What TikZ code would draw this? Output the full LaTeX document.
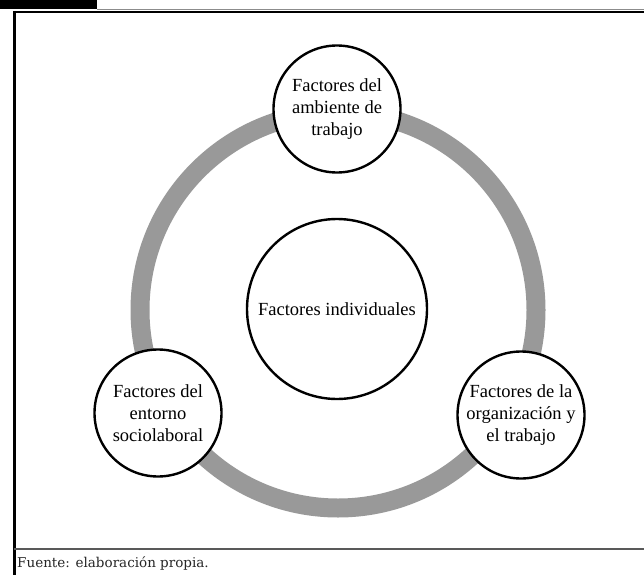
\documentclass[tikz,border=0pt]{standalone}
\usepackage{fontspec}
\newfontfamily\timesfont{Liberation Serif}
\newfontfamily\footfont{DejaVu Serif}
\begin{document}
\begin{tikzpicture}[x=1pt,y=-1pt,
  sat/.style={circle, draw=black, line width=2.4pt, fill=white, minimum size=127pt, inner sep=0pt, align=center, font=\timesfont\fontsize{18.5}{22}\selectfont},
  ring/.style={draw=black!40, line width=19pt},
  frame/.style={draw=black, line width=1.5pt},
]
\useasboundingbox (0,0) rectangle (644,575);
\fill[white] (0,0) rectangle (644,575);
\fill[black] (0,0) rectangle (97,9);
\draw[draw=black!45, line width=1.5pt] (97,9.5) -- (644,9.5);
\draw[frame] (14,12) -- (644,12);
\draw[frame, line width=3pt] (14,11) -- (14,575);
\draw[draw=black!65, line width=2pt] (14,549) -- (644,549);
\coordinate (c) at (338,310);
\draw[ring] (c) circle[radius=198];
\node[sat, minimum size=180pt] (ind) at (337,309) {Factores individuales};
\node[sat] (amb) at (337,109) {Factores del\\ambiente de\\trabajo};
\node[sat] (ent) at (158,413) {Factores del\\entorno\\sociolaboral};
\node[sat] (org) at (521,415) {Factores de la\\organización y\\el trabajo};
\node[anchor=base west, inner sep=0pt, font=\footfont\fontsize{13.5}{16}\selectfont, text=black!85] (src) at (17,567) {Fuente: elaboración propia.};
\end{tikzpicture}
\end{document}
